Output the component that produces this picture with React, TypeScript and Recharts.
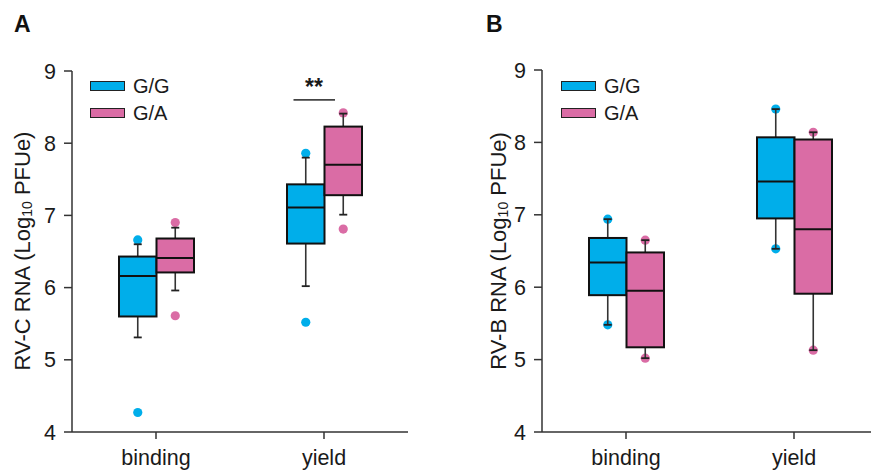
import React from 'react';
import { ComposedChart, Bar, XAxis, YAxis } from 'recharts';

const CATEGORIES = ['binding', 'yield'];

// box stats per category: [min, q1, median, q3, max]
const RVC_GG = [
    [5.31, 5.6, 6.16, 6.43, 6.6],
    [6.02, 6.61, 7.11, 7.43, 7.8],
];
const RVC_GA = [
    [5.96, 6.21, 6.41, 6.68, 6.83],
    [7.01, 7.28, 7.7, 8.23, 8.41],
];
const RVC_GG_DOTS = [[6.66, 4.27], [7.86, 5.52]];
const RVC_GA_DOTS = [[6.9, 5.61], [8.42, 6.81]];
const RVC_SIG = ['', '**'];
const SIG_LEVEL = 8.6;

const RVB_GG = [
    [5.48, 5.89, 6.34, 6.68, 6.94],
    [6.53, 6.95, 7.46, 8.07, 8.46],
];
const RVB_GA = [
    [5.02, 5.17, 5.95, 6.48, 6.65],
    [5.13, 5.91, 6.8, 8.04, 8.14],
];
const RVB_GG_DOTS = [[6.94, 5.48], [8.46, 6.53]];
const RVB_GA_DOTS = [[6.65, 5.02], [8.14, 5.13]];
const RVB_SIG = ['', ''];

const Y_TICKS = [4, 5, 6, 7, 8, 9];
const GENOTYPES = ['G/G', 'G/A'];

const BLUE = '#00AEEA';
const PINK = '#DA6CA5';
const FONT = '"Liberation Sans", Arial, sans-serif';
const INK = '#1a1a1a';

function buildRows(gg: number[][], ga: number[][], ggDots: number[][], gaDots: number[][], sig: string[]) {
    return CATEGORIES.map((cat, i) => ({
        cat,
        gg: gg[i],
        ga: ga[i],
        ggDots: ggDots[i],
        gaDots: gaDots[i],
        sig: sig[i],
    }));
}

function makeBox(key: 'gg' | 'ga', dotKey: 'ggDots' | 'gaDots', color: string) {
    return (props: any) => {
        const { x, y, width, height, payload } = props;
        const s: number[] = payload[key];
        const dots: number[] = payload[dotKey];
        const top = Math.min(y, y + height);
        const h = Math.abs(height);
        // pixels per unit, taken from the bar the y scale drew for q1..q3
        const k = h / (s[3] - s[1]);
        const py = (v: number) => top + (s[3] - v) * k;
        const cx = x + width / 2;
        const cap = 4;
        return (
            <g>
                {dots.map((d, i) => (
                    <circle key={i} cx={cx} cy={py(d)} r={4.6} fill={color} />
                ))}
                <line x1={cx} x2={cx} y1={py(s[4])} y2={py(s[0])} stroke="#333" strokeWidth={1.6} />
                <line x1={cx - cap} x2={cx + cap} y1={py(s[4])} y2={py(s[4])} stroke="#222" strokeWidth={1.8} />
                <line x1={cx - cap} x2={cx + cap} y1={py(s[0])} y2={py(s[0])} stroke="#222" strokeWidth={1.8} />
                <rect x={x} y={top} width={width} height={h} fill={color} stroke="#111" strokeWidth={2} />
                <line x1={x} x2={x + width} y1={py(s[2])} y2={py(s[2])} stroke="#111" strokeWidth={2} />
                {key === 'gg' && payload.sig ? (
                    <g>
                        <line
                            x1={x + 6.5}
                            x2={x + 2 * width - 27}
                            y1={py(SIG_LEVEL)}
                            y2={py(SIG_LEVEL)}
                            stroke="#444"
                            strokeWidth={1.6}
                        />
                        <text
                            x={x + width - 10.5}
                            y={py(SIG_LEVEL) - 5}
                            textAnchor="middle"
                            fontFamily={FONT}
                            fontWeight={700}
                            fontSize={23}
                            fill={INK}
                        >
                            {payload.sig}
                        </text>
                    </g>
                ) : null}
            </g>
        );
    };
}

function YLabel({ x, y, virus }: { x: number; y: number; virus: string }) {
    return (
        <text
            transform={`translate(${x},${y}) rotate(-90)`}
            textAnchor="middle"
            dominantBaseline="central"
            fontFamily={FONT}
            fontSize={22}
            fill={INK}
        >
            {`${virus} RNA (Log`}
            <tspan fontSize={14} dy={5}>10</tspan>
            <tspan dy={-5}> PFUe)</tspan>
        </text>
    );
}

function Legend({ left, top }: { left: number; top: number }) {
    const colors = [BLUE, PINK];
    return (
        <div style={{ position: 'absolute', left, top, fontFamily: FONT, fontSize: 20, color: INK }}>
            {GENOTYPES.map((g, i) => (
                <div key={g} style={{ display: 'flex', alignItems: 'center', height: 26.5, lineHeight: '20px' }}>
                    <div
                        style={{
                            width: 33,
                            height: 8,
                            background: colors[i],
                            border: '1.2px solid #222',
                            marginRight: 8,
                        }}
                    />
                    <span>{g}</span>
                </div>
            ))}
        </div>
    );
}

interface PanelProps {
    rows: ReturnType<typeof buildRows>;
    virus: string;
    width: number;
    yWidth: number;
    top: number;
    labelX: number;
}

function Panel({ rows, virus, width, yWidth, top, labelX }: PanelProps) {
    const tickStyle = { fontSize: 21.5, fill: INK, fontFamily: FONT };
    return (
        <ComposedChart
            width={width}
            height={470}
            data={rows}
            margin={{ top, right: width - yWidth - 336, bottom: 0, left: 0 }}
            barGap={0}
        >
            <XAxis
                dataKey="cat"
                height={38}
                tick={tickStyle}
                tickSize={7}
                tickMargin={11}
                axisLine={{ stroke: '#333', strokeWidth: 1.5 }}
                tickLine={{ stroke: '#333', strokeWidth: 1.5 }}
            />
            <YAxis
                width={yWidth}
                domain={[4, 9]}
                ticks={Y_TICKS}
                type="number"
                tick={tickStyle}
                tickSize={8}
                tickMargin={8}
                axisLine={{ stroke: '#333', strokeWidth: 1.5 }}
                tickLine={{ stroke: '#333', strokeWidth: 1.5 }}
                label={{ content: () => <YLabel x={labelX} y={251} virus={virus} /> }}
            />
            <Bar
                dataKey={(d: any) => [d.gg[1], d.gg[3]]}
                name="G/G"
                fill={BLUE}
                barSize={37.5}
                isAnimationActive={false}
                shape={makeBox('gg', 'ggDots', BLUE)}
            />
            <Bar
                dataKey={(d: any) => [d.ga[1], d.ga[3]]}
                name="G/A"
                fill={PINK}
                barSize={37.5}
                isAnimationActive={false}
                shape={makeBox('ga', 'gaDots', PINK)}
            />
        </ComposedChart>
    );
}

export default function App() {
    const rowsC = buildRows(RVC_GG, RVC_GA, RVC_GG_DOTS, RVC_GA_DOTS, RVC_SIG);
    const rowsB = buildRows(RVB_GG, RVB_GA, RVB_GG_DOTS, RVB_GA_DOTS, RVB_SIG);
    const panelLetter = { position: 'absolute' as const, fontFamily: FONT, fontWeight: 700, fontSize: 23, color: '#111' };
    return (
        <div
            style={{
                position: 'absolute',
                left: 0,
                top: 0,
                width: 871,
                height: 470,
                overflow: 'hidden',
                background: '#fff',
            }}
        >
            <div style={{ ...panelLetter, left: 14, top: 11 }}>A</div>
            <div style={{ ...panelLetter, left: 486, top: 11 }}>B</div>
            <div style={{ position: 'absolute', left: 0, top: 0 }}>
                <Panel rows={rowsC} virus="RV-C" width={420} yWidth={72} top={71} labelX={22} />
            </div>
            <div style={{ position: 'absolute', left: 460, top: 0 }}>
                <Panel rows={rowsB} virus="RV-B" width={418} yWidth={82} top={70} labelX={38} />
            </div>
            <Legend left={90} top={73} />
            <Legend left={561} top={73} />
        </div>
    );
}
